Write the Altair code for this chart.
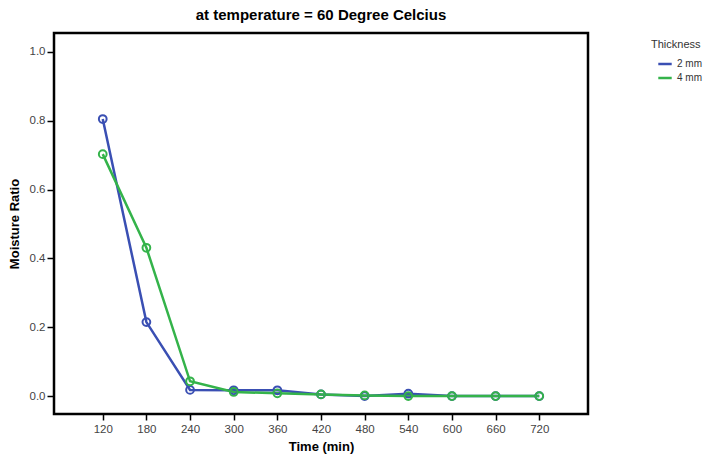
import altair as alt
import pandas as pd

time_min = [120, 180, 240, 300, 360, 420, 480, 540, 600, 660, 720]
mr_2mm = [0.805, 0.215, 0.018, 0.017, 0.017, 0.005, 0.000, 0.007, 0.000, 0.000, 0.000]
mr_4mm = [0.703, 0.431, 0.043, 0.012, 0.008, 0.005, 0.002, 0.000, 0.000, 0.000, 0.000]
series = ["2 mm", "4 mm"]
colors = ["#3a4fb3", "#34b34a"]
x_ticks = time_min
y_ticks = [0.0, 0.2, 0.4, 0.6, 0.8, 1.0]

rows = []
for t, v in zip(time_min, mr_2mm):
    rows.append({"Time": t, "MR": v, "Thickness": series[0]})
for t, v in zip(time_min, mr_4mm):
    rows.append({"Time": t, "MR": v, "Thickness": series[1]})
df = pd.DataFrame(rows)

FONT = "Liberation Sans"

x = alt.X("Time:Q", title="Time (min)",
          scale=alt.Scale(domain=[53, 787], nice=False, zero=False),
          axis=alt.Axis(values=x_ticks, domain=False, grid=False, tickColor="black",
                        tickSize=6, tickWidth=1.5, labelPadding=3, labelFontSize=11.5,
                        labelColor="#444", labelFont=FONT, titleFont=FONT, titleFontSize=13,
                        titleFontWeight="bold", titleColor="black", titlePadding=6))
y = alt.Y("MR:Q", title="Moisture Ratio",
          scale=alt.Scale(domain=[-0.052, 1.055], nice=False, zero=False),
          axis=alt.Axis(values=y_ticks, format=".1f", domain=False, grid=False, tickColor="black",
                        tickSize=7, tickWidth=1.5, labelPadding=2, labelFontSize=11.5,
                        labelColor="#444", labelFont=FONT, titleFont=FONT, titleFontSize=13,
                        titleFontWeight="bold", titleColor="black", titlePadding=8))
color = alt.Color("Thickness:N", scale=alt.Scale(domain=series, range=colors),
                  legend=alt.Legend(title="Thickness", orient="none", legendX=597, legendY=6,
                                    symbolType="stroke", symbolStrokeWidth=2.5, symbolSize=180,
                                    symbolOffset=6,
                                    titleFont=FONT, titleFontSize=11, titleFontWeight="normal",
                                    titleColor="#333", labelFont=FONT, labelFontSize=10,
                                    labelColor="#333", rowPadding=1, titlePadding=6,
                                    offset=0))

base = alt.Chart(df)
lines = base.mark_line(strokeWidth=2.5).encode(x=x, y=y, color=color)
points = base.mark_point(filled=False, size=60, strokeWidth=2, opacity=1).encode(
    x=x, y=y, color=alt.Color("Thickness:N", scale=alt.Scale(domain=series, range=colors), legend=None))

chart = alt.layer(lines, points).properties(
    width=534, height=381,
    title=alt.TitleParams("at temperature = 60 Degree Celcius", font=FONT, fontSize=15,
                          fontWeight="bold", anchor="middle", offset=10, color="black"),
    padding={"left": 54, "top": 33, "right": 121, "bottom": 41},
    autosize=alt.AutoSizeParams(type="none"),
).configure(background="white").configure_view(stroke="black", strokeWidth=2.5)

chart.save("out.html", embed_options={"renderer": "svg", "actions": False})
